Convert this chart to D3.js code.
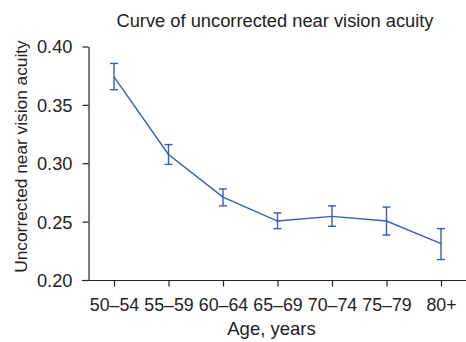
<!DOCTYPE html>
<html>
<head>
<meta charset="utf-8">
<script src="https://cdn.jsdelivr.net/npm/d3@7"></script>
<style>
  body { margin: 0; background: #fff; }
  svg { display: block; font-family: "Liberation Sans", Arial, sans-serif; }
</style>
</head>
<body>
<div id="chart"></div>
<script>
const ageGroups = ["50–54", "55–59", "60–64", "65–69", "70–74", "75–79", "80+"];
const meanValues = [0.374, 0.3075, 0.271, 0.2505, 0.2545, 0.2505, 0.2312];
const upperValues = [0.3855, 0.316, 0.278, 0.2575, 0.2635, 0.2625, 0.244];
const lowerValues = [0.363, 0.299, 0.2635, 0.244, 0.246, 0.2385, 0.2175];
const yTicks = [0.20, 0.25, 0.30, 0.35, 0.40];

const width = 466, height = 342;
const blue = "#3a5cb8";
const ink = "#222";

const svg = d3.select("#chart").append("svg")
  .attr("width", width)
  .attr("height", height);

const x = d3.scalePoint()
  .domain(ageGroups)
  .range([114, 441]);

const y = d3.scaleLinear()
  .domain([0.20, 0.40])
  .range([280, 46.5]);

// y axis
const yAxis = svg.append("g")
  .attr("transform", "translate(88.5,0)")
  .call(d3.axisLeft(y).tickValues(yTicks).tickFormat(d3.format(".2f")).tickSize(6).tickSizeOuter(0));
yAxis.select(".domain").attr("stroke", ink).attr("stroke-width", 1.2);
yAxis.selectAll(".tick line").attr("stroke", ink).attr("stroke-width", 1.2);
yAxis.selectAll(".tick text")
  .attr("fill", ink)
  .attr("font-size", 18.3)
  .attr("x", -16)
  .attr("dy", "0.35em");

// x axis
const xAxis = svg.append("g")
  .attr("transform", "translate(0,280.5)")
  .call(d3.axisBottom(x).tickSize(6).tickSizeOuter(0));
xAxis.select(".domain").remove();
xAxis.append("line")
  .attr("x1", 82).attr("x2", width)
  .attr("stroke", ink).attr("stroke-width", 1.2);
xAxis.selectAll(".tick line").attr("stroke", ink).attr("stroke-width", 1.2);
xAxis.selectAll(".tick text")
  .attr("fill", ink)
  .attr("font-size", 17.8)
  .attr("y", 30)
  .attr("dy", 0);

// line
const data = ageGroups.map((g, i) => ({ g, m: meanValues[i], hi: upperValues[i], lo: lowerValues[i] }));

svg.append("path")
  .datum(data)
  .attr("fill", "none")
  .attr("stroke", blue)
  .attr("stroke-width", 1.4)
  .attr("d", d3.line().x(d => x(d.g)).y(d => y(d.m)));

// error bars
const eb = svg.append("g")
  .attr("stroke", blue)
  .attr("stroke-width", 1.4)
  .selectAll("g")
  .data(data)
  .join("g");
eb.append("line")
  .attr("x1", d => x(d.g)).attr("x2", d => x(d.g))
  .attr("y1", d => y(d.hi)).attr("y2", d => y(d.lo));
eb.append("line")
  .attr("x1", d => x(d.g) - 4).attr("x2", d => x(d.g) + 4)
  .attr("y1", d => y(d.hi)).attr("y2", d => y(d.hi));
eb.append("line")
  .attr("x1", d => x(d.g) - 4).attr("x2", d => x(d.g) + 4)
  .attr("y1", d => y(d.lo)).attr("y2", d => y(d.lo));

// titles
svg.append("text")
  .attr("x", 275)
  .attr("y", 26.5)
  .attr("text-anchor", "middle")
  .attr("font-size", 18.3)
  .attr("fill", ink)
  .text("Curve of uncorrected near vision acuity");

svg.append("text")
  .attr("x", 271.5)
  .attr("y", 335)
  .attr("text-anchor", "middle")
  .attr("font-size", 18.5)
  .attr("fill", ink)
  .text("Age, years");

svg.append("text")
  .attr("transform", "translate(27,156.5) rotate(-90)")
  .attr("text-anchor", "middle")
  .attr("font-size", 17.3)
  .attr("fill", ink)
  .text("Uncorrected near vision acuity");
</script>
</body>
</html>
